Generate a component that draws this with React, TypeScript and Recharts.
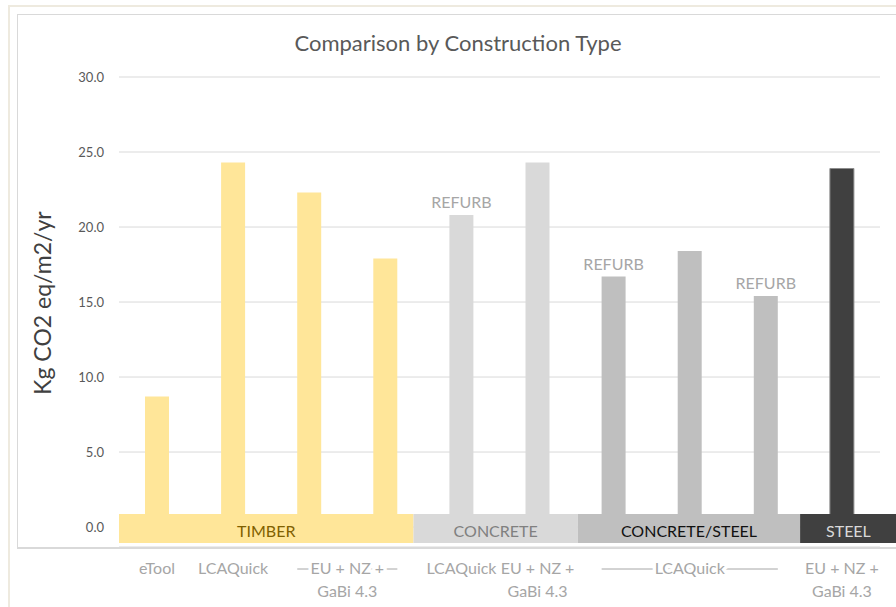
import React from 'react';
import {
  ComposedChart,
  Bar,
  XAxis,
  YAxis,
  CartesianGrid,
  ReferenceArea,
  LabelList,
  Cell,
} from 'recharts';

// Embodied carbon results per study, grouped by construction type
const categories = [
  'Timber eTool',
  'Timber LCAQuick',
  'Timber EU + NZ + GaBi 4.3 (1)',
  'Timber EU + NZ + GaBi 4.3 (2)',
  'Concrete LCAQuick refurb',
  'Concrete EU + NZ + GaBi 4.3',
  'Concrete/steel LCAQuick refurb (1)',
  'Concrete/steel LCAQuick',
  'Concrete/steel LCAQuick refurb (2)',
  'Steel EU + NZ + GaBi 4.3',
];
const values = [8.7, 24.3, 22.3, 17.9, 20.8, 24.3, 16.7, 18.4, 15.4, 23.9];
const constructionTypes = [
  'TIMBER', 'TIMBER', 'TIMBER', 'TIMBER',
  'CONCRETE', 'CONCRETE',
  'CONCRETE/STEEL', 'CONCRETE/STEEL', 'CONCRETE/STEEL',
  'STEEL',
];
const notes = ['', '', '', '', 'REFURB', '', 'REFURB', '', 'REFURB', ''];

// Construction type bands along the base, in category units
const typeBands = [
  { name: 'TIMBER', from: 0, to: 3.87 },
  { name: 'CONCRETE', from: 3.87, to: 6.03 },
  { name: 'CONCRETE/STEEL', from: 6.03, to: 8.95 },
  { name: 'STEEL', from: 8.95, to: 10.22 },
];

// Tool labels under the chart, each covering a run of categories
const toolLabels = [
  { first: 0, last: 0, lines: ['eTool'] },
  { first: 1, last: 1, lines: ['LCAQuick'] },
  { first: 2, last: 3, lines: ['EU + NZ +', 'GaBi 4.3'] },
  { first: 4, last: 4, lines: ['LCAQuick'] },
  { first: 5, last: 5, lines: ['EU + NZ +', 'GaBi 4.3'] },
  { first: 6, last: 8, lines: ['LCAQuick'] },
  { first: 9, last: 9, lines: ['EU + NZ +', 'GaBi 4.3'] },
];

const yTicks = [0, 5, 10, 15, 20, 25, 30];

const data = categories.map((name, i) => ({
  name,
  pos: i + 0.5,
  value: values[i],
  type: constructionTypes[i],
  note: notes[i],
}));

const FONT = 'Lato, "Open Sans", sans-serif';
const WIDTH = 896;
const HEIGHT = 607;
const MARGIN = { top: 77, right: 16, bottom: 0, left: 0 };
const Y_AXIS_W = 119;
const PLOT_W = WIDTH - MARGIN.left - MARGIN.right - Y_AXIS_W;
const CAT_W = PLOT_W / categories.length;
const BAR_SIZE = 24;

const typeStyle: Record<string, { fill: string; text: string; stroke?: string }> = {
  TIMBER: { fill: '#FFE699', text: '#7F6000' },
  CONCRETE: { fill: '#D9D9D9', text: '#808080' },
  'CONCRETE/STEEL': { fill: '#BFBFBF', text: '#111111' },
  STEEL: { fill: '#404040', text: '#D9D9D9', stroke: '#8C8C8C' },
};

const toolTickPositions = toolLabels.map((l) => (l.first + l.last + 1) / 2);

const ToolTick = (props: any) => {
  const { x, y, payload } = props;
  const item = toolLabels.find((l) => (l.first + l.last + 1) / 2 === payload.value);
  if (!item) return null;
  const span = item.last - item.first;
  const half = span > 0 ? (span / 2) * CAT_W + BAR_SIZE / 2 : 0;
  const base = y - 11;
  return (
    <g>
      {span > 0 && (
        <line x1={x - half} x2={x + half} y1={base - 5} y2={base - 5} stroke="#A6A6A6" strokeWidth={1} />
      )}
      {item.lines.map((t, i) => (
        <text
          key={i}
          x={x}
          y={base + i * 23}
          textAnchor="middle"
          fill="#A6A6A6"
          fontSize={16}
          fontFamily={FONT}
          stroke={span > 0 && i === 0 ? '#ffffff' : 'none'}
          strokeWidth={span > 0 && i === 0 ? 7 : 0}
          strokeLinejoin="round"
          paintOrder="stroke"
        >
          {t}
        </text>
      ))}
    </g>
  );
};

const NoteLabel = (props: any) => {
  const { x, y, width, index } = props;
  const note = notes[index];
  if (!note) return null;
  return (
    <text x={x + width / 2} y={y - 7} textAnchor="middle" fill="#A6A6A6" fontSize={16} fontFamily={FONT}>
      {note}
    </text>
  );
};

const bandLabel = (name: string) => (props: any) => {
  const vb = props.viewBox;
  if (!vb) return null;
  return (
    <text
      x={vb.x + vb.width / 2}
      y={vb.y + vb.height / 2 + 8}
      textAnchor="middle"
      fill={typeStyle[name].text}
      fontSize={16}
      fontFamily={FONT}
    >
      {name}
    </text>
  );
};

const YLabel = () => {
  const cx = 42;
  const cy = 303;
  return (
    <text
      x={cx}
      y={cy}
      transform={`rotate(-90 ${cx} ${cy})`}
      textAnchor="middle"
      dominantBaseline="central"
      fill="#404040"
      fontSize={23}
      fontFamily={FONT}
    >
      Kg CO2 eq/m2/yr
    </text>
  );
};

export default function App() {
  return (
    <div style={{ position: 'absolute', left: 0, top: 0, width: WIDTH, height: HEIGHT, background: '#ffffff', overflow: 'hidden' }}>
      {/* outer and inner frames */}
      <div style={{ position: 'absolute', left: 8, top: 5, width: WIDTH, height: HEIGHT, borderLeft: '2px solid #EEEADF', borderTop: '2px solid #EEEADF' }} />
      <div style={{ position: 'absolute', left: 17, top: 14, width: WIDTH, height: 532, borderLeft: '1px solid #D9D9D9', borderTop: '1px solid #D9D9D9', borderBottom: '2px solid #D9D9D9' }} />
      <div
        style={{
          position: 'absolute',
          left: 0,
          width: 916,
          top: 29,
          textAlign: 'center',
          fontFamily: FONT,
          fontSize: 22,
          color: '#595959',
          lineHeight: '28px',
        }}
      >
        Comparison by Construction Type
      </div>
      <div style={{ position: 'absolute', left: 0, top: 0 }}>
        <ComposedChart width={WIDTH} height={HEIGHT} data={data} margin={MARGIN}>
          <CartesianGrid horizontal vertical={false} stroke="#D9D9D9" strokeWidth={1} />
          <XAxis dataKey="name" hide />
          <XAxis
            xAxisId="band"
            dataKey="pos"
            type="number"
            domain={[0, categories.length]}
            ticks={toolTickPositions}
            interval={0}
            allowDataOverflow
            axisLine={false}
            tickLine={false}
            height={HEIGHT - 547}
            tick={<ToolTick />}
          />
          <YAxis
            width={Y_AXIS_W}
            domain={[-1.33, 30]}
            ticks={yTicks}
            allowDataOverflow
            axisLine={false}
            tickLine={false}
            tickMargin={9}
            tickFormatter={(v: number) => v.toFixed(1)}
            tick={{ fill: '#595959', fontSize: 13, fontFamily: FONT }}
            label={<YLabel />}
          />
          <Bar dataKey="value" barSize={BAR_SIZE} isAnimationActive={false}>
            {data.map((d) => (
              <Cell
                key={d.name}
                fill={typeStyle[d.type].fill}
                stroke={typeStyle[d.type].stroke ?? 'none'}
                strokeWidth={1}
              />
            ))}
            <LabelList dataKey="note" content={<NoteLabel />} />
          </Bar>
          {typeBands.map((b) => (
            <ReferenceArea
              key={b.name}
              xAxisId="band"
              x1={b.from}
              x2={b.to}
              y1={-1.07}
              y2={0.87}
              fill={typeStyle[b.name].fill}
              fillOpacity={1}
              stroke="none"
              ifOverflow="visible"
              zIndex={1500}
              label={bandLabel(b.name)}
            />
          ))}
        </ComposedChart>
      </div>
    </div>
  );
}
